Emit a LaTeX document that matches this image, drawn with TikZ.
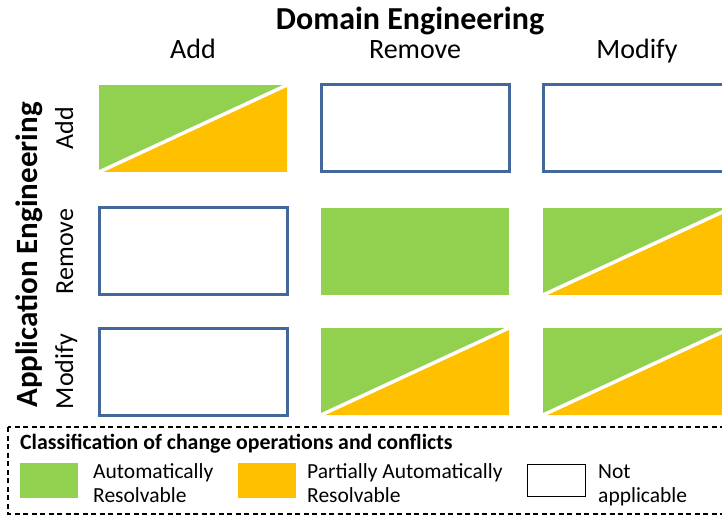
\documentclass[tikz,border=0pt]{standalone}
\usepackage{fontspec}
\setmainfont{Carlito}
\definecolor{grn}{HTML}{92D050}
\definecolor{org}{HTML}{FFC000}
\definecolor{edgeblue}{HTML}{41679B}
\tikzset{
  cellbase/.style={minimum width=188pt, minimum height=87pt, inner sep=0pt, outer sep=0pt},
  emptycell/.style={cellbase, draw=edgeblue, line width=3pt, fill=white},
  greencell/.style={cellbase, fill=grn},
  splitcell/.style={cellbase, fill=grn, path picture={
      \fill[org] (path picture bounding box.south west) -- (path picture bounding box.north east)
        -- (path picture bounding box.south east) -- cycle;
      \draw[white, line width=3.5pt] (path picture bounding box.south west) -- (path picture bounding box.north east);}},
  headlbl/.style={font=\fontsize{28}{34}\selectfont, anchor=base, inner sep=0pt},
  sidelbl/.style={font=\fontsize{26}{32}\selectfont, anchor=base, rotate=90, inner sep=0pt},
  titlelbl/.style={font=\bfseries\fontsize{32}{38}\selectfont, anchor=base, inner sep=0pt},
  legtxt/.style={font=\fontsize{21.5}{24}\selectfont, anchor=base west, inner sep=0pt, align=left},
  swatch/.style={minimum width=58pt, minimum height=35pt, inner sep=0pt, outer sep=0pt},
}
\begin{document}
\begin{tikzpicture}[x=1pt,y=-1pt]
\useasboundingbox (0,0) rectangle (722,518);
\clip (0,0) rectangle (722,518);

% titles
\node[titlelbl] (domain) at (410,30) {Domain Engineering};
\node[titlelbl, rotate=90, font=\bfseries\fontsize{31}{37}\selectfont] (appl) at (37,255) {Application Engineering};

% column headers
\node[headlbl] (hadd) at (193,59) {Add};
\node[headlbl] (hrem) at (415,59) {Remove};
\node[headlbl] (hmod) at (637,59) {Modify};

% row headers
\node[sidelbl] (radd) at (73,128.5) {Add};
\node[sidelbl] (rrem) at (73,251.5) {Remove};
\node[sidelbl] (rmod) at (73,371.5) {Modify};

% cells
\node[splitcell] (c11) at (193,128.5) {};
\node[emptycell] (c12) at (415,128.5) {};
\node[emptycell] (c13) at (637,128.5) {};
\node[emptycell] (c21) at (193,251.5) {};
\node[greencell] (c22) at (415,251.5) {};
\node[splitcell] (c23) at (637,251.5) {};
\node[emptycell] (c31) at (193,371.5) {};
\node[splitcell] (c32) at (415,371.5) {};
\node[splitcell] (c33) at (637,371.5) {};

% legend
\draw[black, line width=1.3pt, dash pattern=on 5pt off 3.5pt] (8,427) rectangle (730,514);
\node[font=\bfseries\fontsize{21.8}{24}\selectfont, anchor=base west, inner sep=0pt] (legtitle) at (20,449) {Classification of change operations and conflicts};
\node[swatch, fill=grn] (sg) at (49,480.5) {};
\node[legtxt] (tg) at (93,502) {Automatically\\Resolvable};
\node[swatch, fill=org] (so) at (266.5,480.5) {};
\node[legtxt] (to) at (307,502) {Partially Automatically\\Resolvable};
\node[swatch, draw=black, line width=1.3pt, fill=white, minimum height=32pt] (sw) at (556.5,480.5) {};
\node[legtxt] (tw) at (598,502) {Not\\applicable};
\end{tikzpicture}
\end{document}
